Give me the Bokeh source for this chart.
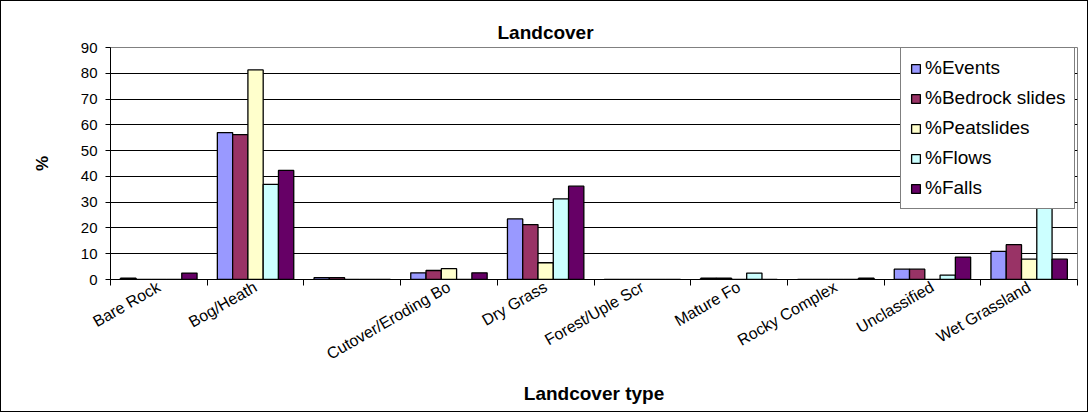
import math
from bokeh.plotting import figure
from bokeh.models import FixedTicker, Legend, LegendItem, Range1d
from bokeh.embed import file_html
from bokeh.resources import INLINE

categories = ["Bare Rock", "Bog/Heath", "", "Cutover/Eroding Bo", "Dry Grass",
              "Forest/Uple Scr", "Mature Fo", "Rocky Complex", "Unclassified", "Wet Grassland"]
series = ["%Events", "%Bedrock slides", "%Peatslides", "%Flows", "%Falls"]
events = [0.5, 57.0, 0.7, 2.6, 23.5, 0.0, 0.5, 0.0, 4.0, 10.9]
bedrock = [0.0, 56.2, 0.7, 3.5, 21.3, 0.0, 0.5, 0.0, 4.0, 13.5]
peat = [0.0, 81.3, 0.0, 4.2, 6.5, 0.0, 0.0, 0.0, 0.0, 7.9]
flows = [0.0, 36.9, 0.0, 0.0, 31.3, 0.0, 2.5, 0.0, 1.7, 45.0]
falls = [2.5, 42.3, 0.0, 2.6, 36.2, 0.0, 0.0, 0.5, 8.7, 7.9]
colors = ["#9999FF", "#993366", "#FFFFCC", "#CCFFFF", "#660066"]
yticks = list(range(0, 100, 10))

FONT = "Liberation Sans"
n = len(categories)
bw = 0.158

p = figure(width=1088, height=412, output_backend="svg", toolbar_location=None,
           x_range=Range1d(0, n), y_range=Range1d(0, 90),
           min_border_left=109, min_border_right=12, min_border_top=46, min_border_bottom=134,
           title="Landcover")
p.styles = {"border": "1px solid black"}
p.title.text_font = FONT
p.title.text_font_size = "19px"
p.title.text_font_style = "bold"
p.title.text_color = "black"
p.title.align = "left"
p.title.offset = 387

p.outline_line_color = "#808080"
p.background_fill_color = "white"
p.border_fill_color = "white"

renderers = []
for j, vals in enumerate([events, bedrock, peat, flows, falls]):
    xs = [i + 0.5 + (j - 2) * bw for i in range(n)]
    r = p.vbar(x=xs, top=vals, width=bw, fill_color=colors[j],
               line_color="black", line_width=1.3)
    renderers.append(r)

# x axis
p.xaxis.ticker = FixedTicker(ticks=[i + 0.5 for i in range(n)],
                             minor_ticks=list(range(n + 1)))
p.xaxis.major_label_overrides = {i + 0.5: c for i, c in enumerate(categories)}
p.xaxis.major_tick_line_color = None
p.xaxis.minor_tick_line_color = "black"
p.xaxis.minor_tick_out = 6
p.xaxis.minor_tick_in = 0
p.xaxis.major_label_orientation = math.pi / 6
p.xaxis.major_label_standoff = 0
p.xaxis.major_label_text_font = FONT
p.xaxis.major_label_text_font_size = "16px"
p.xaxis.major_label_text_color = "black"
p.xaxis.axis_line_color = "black"
p.xaxis.axis_label = "Landcover type"
p.xaxis.axis_label_text_font = FONT
p.xaxis.axis_label_text_font_size = "19px"
p.xaxis.axis_label_text_font_style = "bold"
p.xaxis.axis_label_text_color = "black"
p.xaxis.axis_label_standoff = 10

# y axis
p.yaxis.ticker = FixedTicker(ticks=yticks, minor_ticks=[])
p.yaxis.major_tick_out = 5
p.yaxis.major_tick_in = 0
p.yaxis.major_tick_line_color = "black"
p.yaxis.axis_line_color = "black"
p.yaxis.major_label_text_font = FONT
p.yaxis.major_label_text_font_size = "15px"
p.yaxis.major_label_text_color = "black"
p.yaxis.major_label_standoff = 8
p.yaxis.axis_label = "%"
p.yaxis.axis_label_text_font = FONT
p.yaxis.axis_label_text_font_size = "17px"
p.yaxis.axis_label_text_font_style = "bold"
p.yaxis.axis_label_text_color = "black"
p.yaxis.axis_label_standoff = 26

p.xgrid.visible = False
p.ygrid.ticker = FixedTicker(ticks=yticks)
p.ygrid.grid_line_color = "black"
p.ygrid.grid_line_width = 1

legend = Legend(items=[LegendItem(label=s, renderers=[r]) for s, r in zip(series, renderers)],
                location=(790, 70))
legend.border_line_color = "black"
legend.border_line_width = 1
legend.background_fill_color = "white"
legend.background_fill_alpha = 1
legend.label_text_font = FONT
legend.label_text_font_size = "19px"
legend.label_text_color = "black"
legend.glyph_width = 11
legend.glyph_height = 11
legend.label_standoff = 4
legend.spacing = 8
legend.padding = 9
legend.margin = 0
p.add_layout(legend, "center")

open("out.html", "w").write(file_html(p, INLINE))
